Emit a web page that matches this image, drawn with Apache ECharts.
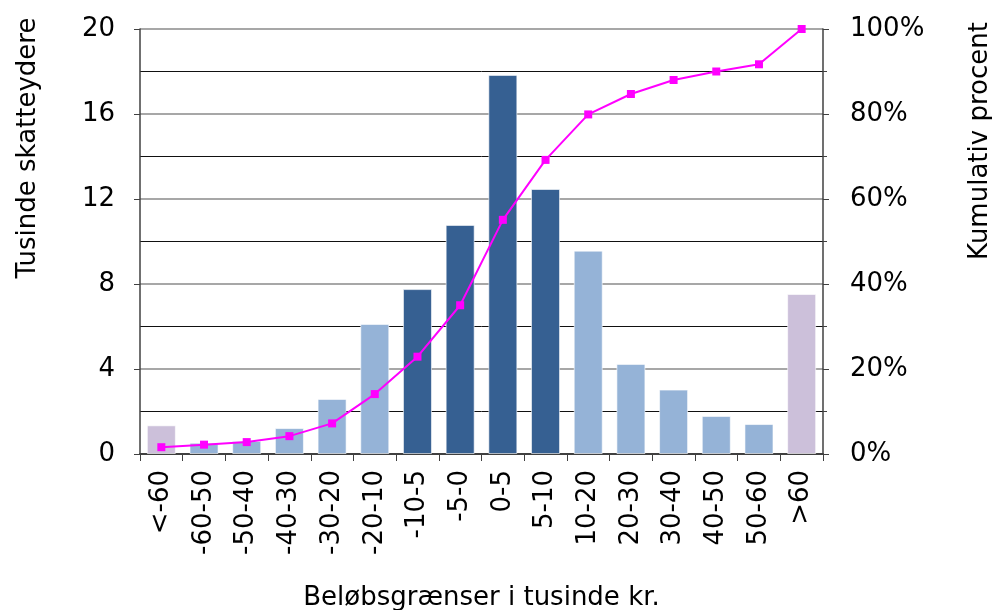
<!DOCTYPE html>
<html><head><meta charset="utf-8">
<script src="https://cdn.jsdelivr.net/npm/echarts@6/dist/echarts.min.js"></script>
<style>html,body{margin:0;padding:0;background:#fff}#c{width:992px;height:610px}</style>
</head><body><div id="c"></div>
<script>
const categories = ['<-60','-60-50','-50-40','-40-30','-30-20','-20-10','-10-5','-5-0','0-5','5-10','10-20','20-30','30-40','40-50','50-60','>60'];
const taxpayers = [1.35,0.53,0.61,1.22,2.59,6.12,7.76,10.78,17.84,12.47,9.57,4.24,3.03,1.79,1.41,7.53];
const cumulativePct = [1.6,2.2,2.8,4.2,7.2,14.1,22.9,35.0,55.1,69.2,79.9,84.7,88.0,90.0,91.7,100];
const barGroups = ['edge','light','light','light','light','light','dark','dark','dark','dark','light','light','light','light','light','edge'];
const groupColors = {edge:'#CCC0DA', light:'#95B3D7', dark:'#366092'};
const leftTicks = [0,4,8,12,16,20];
const rightTicks = [0,20,40,60,80,100];

const FONT = 'DejaVu Sans';
const FS = 26;
const chart = echarts.init(document.getElementById('c'));
chart.setOption({
  animation:false,
  textStyle:{fontFamily:FONT},
  grid:{left:140,right:169,top:29,bottom:156,containLabel:false,outerBoundsMode:'none'},
  xAxis:{
    type:'category', data:categories, boundaryGap:true,
    axisLine:{lineStyle:{color:'#404040',width:2}},
    axisTick:{show:true,length:7,lineStyle:{color:'#404040'}},
    axisLabel:{rotate:90,fontSize:FS,color:'#000',margin:16,fontFamily:FONT},
    name:'Beløbsgrænser i tusinde kr.', nameLocation:'middle', nameGap:131,
    nameTextStyle:{fontSize:FS,color:'#000',fontFamily:FONT}
  },
  yAxis:[{
    type:'value', min:leftTicks[0], max:leftTicks[leftTicks.length-1], interval:4,
    axisLine:{show:true,lineStyle:{color:'#404040',width:1.5}},
    axisTick:{show:true,length:6,lineStyle:{color:'#404040'}},
    axisLabel:{fontSize:FS,color:'#000',margin:25,fontFamily:FONT},
    splitLine:{show:true,lineStyle:{color:'#8a8a8a',width:1.5}},
    minorSplitLine:{show:true,lineStyle:{color:'#111',width:1}},
    minorTick:{show:false,splitNumber:2}
  },{
    type:'value', min:rightTicks[0], max:rightTicks[rightTicks.length-1], interval:20,
    axisLine:{show:true,lineStyle:{color:'#404040',width:1.5}},
    axisTick:{show:true,length:6,lineStyle:{color:'#404040'}},
    minorTick:{show:true,splitNumber:2,length:4,lineStyle:{color:'#404040'}},
    axisLabel:{fontSize:FS,color:'#000',margin:27,formatter:'{value}%',fontFamily:FONT},
    splitLine:{show:false}
  }],
  graphic:[
    {type:'text',x:28,y:148,rotation:Math.PI/2,
     style:{text:'Tusinde skatteydere',fontSize:FS,fontFamily:FONT,fill:'#000',align:'center',verticalAlign:'middle'}},
    {type:'text',x:980,y:141,rotation:Math.PI/2,
     style:{text:'Kumulativ procent',fontSize:FS,fontFamily:FONT,fill:'#000',align:'center',verticalAlign:'middle'}}
  ],
  series:[{
    type:'bar', yAxisIndex:0, barWidth:'68%',
    data:taxpayers.map((v,i)=>({value:v,itemStyle:{color:groupColors[barGroups[i]],borderColor:'rgba(255,255,255,0.6)',borderWidth:1}}))
  },{
    type:'line', yAxisIndex:1, data:cumulativePct,
    symbol:'rect', symbolSize:8,
    lineStyle:{color:'#FF00FF',width:2},
    itemStyle:{color:'#FF00FF'}
  }]
});
</script></body></html>
